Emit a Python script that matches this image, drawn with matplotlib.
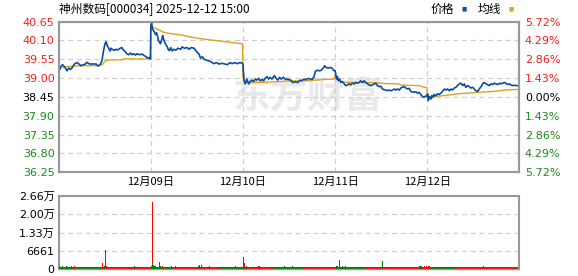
import matplotlib
matplotlib.use("Agg")
import matplotlib.pyplot as plt

plt.rcParams['font.family'] = ['DejaVu Sans', 'Noto Sans CJK SC']

title = "神州数码[000034] 2025-12-12 15:00"
prev_close = 38.45
price_ticks = [40.65, 40.10, 39.55, 39.00, 38.45, 37.90, 37.35, 36.80, 36.25]
pct_labels = ["5.72%", "4.29%", "2.86%", "1.43%", "0.00%", "1.43%", "2.86%", "4.29%", "5.72%"]
day_labels = ["12月09日", "12月10日", "12月11日", "12月12日"]
vol_ticks = [0, 6661, 13322, 19983, 26644]
vol_tick_labels = ["0", "6661", "1.33万", "2.00万", "2.66万"]
MIN_PER_DAY = 241

# intraday price, minute of day -> price
d1_min = [0, 5, 10, 15, 19, 22, 26, 31, 37, 41, 47, 52, 58, 63, 70, 74, 80, 87, 93, 98,
          103, 108, 113, 115, 118, 121, 124, 127, 130, 134, 137, 141, 146, 150, 154, 161, 165, 169, 174, 178,
          183, 188, 192, 196, 201, 205, 211, 218, 224, 229, 233, 237, 240]
d1_price = [39.17, 39.33, 39.39, 39.33, 39.26, 39.21, 39.29, 39.25, 39.33, 39.41,
            39.45, 39.42, 39.36, 39.38, 39.41, 39.46, 39.41, 39.41, 39.41, 39.41,
            39.35, 39.39, 39.50, 39.65, 39.84, 40.00, 40.06, 39.94, 39.89, 39.79,
            39.87, 39.83, 39.81, 39.84, 39.82, 39.87, 39.89, 39.82, 39.77, 39.71,
            39.68, 39.73, 39.68, 39.71, 39.67, 39.71, 39.68, 39.70, 39.65, 39.62,
            39.58, 39.60, 39.55]

d2_min = [0, 2, 4, 7, 10, 12, 15, 18, 20, 23, 25, 28, 31, 33, 36, 39, 41, 44, 46, 49,
          52, 56, 60, 65, 71, 78, 82, 88, 95, 100, 106, 113, 117, 122, 126, 130, 135, 139, 146, 152,
          158, 165, 172, 178, 187, 193, 200, 207, 213, 219, 226, 232, 238, 240]
d2_price = [40.52, 40.60, 40.45, 40.38, 40.33, 40.27, 40.32, 40.20, 40.08, 40.05,
            40.00, 40.10, 40.24, 40.15, 40.05, 39.98, 39.95, 39.88, 39.82, 39.80,
            39.89, 39.79, 39.84, 39.81, 39.87, 39.84, 39.91, 39.87, 39.89, 39.84,
            39.89, 39.87, 39.81, 39.74, 39.70, 39.58, 39.62, 39.55, 39.52, 39.50,
            39.47, 39.42, 39.45, 39.41, 39.43, 39.41, 39.39, 39.45, 39.42, 39.45,
            39.42, 39.45, 39.44, 39.42]

d3_min = [0, 1, 3, 6, 10, 15, 19, 23, 28, 32, 36, 41, 45, 50, 54, 58, 63, 67, 71, 76,
          82, 87, 91, 96, 100, 106, 111, 115, 122, 124, 130, 137, 144, 150, 154, 159, 165, 170, 176, 182,
          187, 189, 194, 200, 205, 211, 214, 217, 223, 229, 233, 237, 240]
d3_price = [39.40, 39.21, 38.92, 38.83, 38.97, 38.83, 38.90, 38.94, 38.90, 38.97,
            38.94, 38.99, 38.92, 38.96, 38.92, 38.99, 39.04, 38.97, 39.02, 38.97,
            39.07, 38.99, 38.94, 39.02, 38.97, 39.02, 38.96, 38.97, 38.95, 38.94,
            38.87, 38.89, 38.87, 38.94, 38.92, 38.97, 38.95, 38.99, 38.97, 38.97,
            39.07, 39.19, 39.23, 39.21, 39.23, 39.31, 39.36, 39.31, 39.29, 39.31,
            39.29, 39.23, 39.21]

d4_min = [0, 1, 4, 6, 9, 12, 15, 19, 24, 28, 32, 37, 41, 45, 50, 54, 58, 63, 67, 72,
          76, 80, 85, 89, 93, 98, 102, 106, 111, 115, 120, 124, 128, 133, 137, 141, 146, 150, 155, 159,
          163, 168, 172, 176, 181, 185, 190, 194, 198, 203, 207, 211, 216, 220, 224, 229, 233, 238, 240]
d4_price = [39.22, 39.16, 38.97, 39.04, 38.92, 38.97, 38.87, 38.90, 38.83, 38.78,
            38.80, 38.83, 38.80, 38.85, 38.83, 38.87, 38.85, 38.87, 38.92, 38.87,
            38.92, 38.87, 38.83, 38.80, 38.78, 38.80, 38.83, 38.85, 38.78, 38.75,
            38.76, 38.68, 38.66, 38.65, 38.63, 38.65, 38.63, 38.65, 38.68, 38.65,
            38.68, 38.65, 38.71, 38.73, 38.75, 38.71, 38.68, 38.70, 38.61, 38.59,
            38.59, 38.60, 38.56, 38.58, 38.52, 38.46, 38.44, 38.48, 38.46]

d5_min = [0, 1, 3, 6, 10, 12, 16, 18, 23, 27, 31, 36, 40, 45, 49, 53, 58, 62, 66, 71,
          75, 79, 84, 88, 93, 97, 101, 106, 110, 114, 119, 123, 127, 132, 136, 141, 145, 149, 154, 158,
          162, 167, 171, 175, 180, 184, 189, 193, 197, 202, 206, 210, 215, 219, 223, 228, 232, 237, 240]
d5_price = [38.46, 38.54, 38.34, 38.46, 38.39, 38.49, 38.44, 38.52, 38.49, 38.54,
            38.52, 38.56, 38.61, 38.68, 38.65, 38.68, 38.63, 38.68, 38.65, 38.71,
            38.73, 38.78, 38.83, 38.85, 38.78, 38.83, 38.73, 38.78, 38.75, 38.71,
            38.73, 38.68, 38.63, 38.61, 38.68, 38.75, 38.83, 38.87, 38.83, 38.81,
            38.78, 38.83, 38.81, 38.85, 38.83, 38.81, 38.85, 38.83, 38.85, 38.87,
            38.85, 38.81, 38.83, 38.80, 38.78, 38.79, 38.78, 38.78, 38.78]

# average price line
d1_avg_min = [0, 1, 5, 20, 50, 105, 115, 120, 124, 137, 165, 170, 240]
d1_avg = [39.17, 39.21, 39.29, 39.33, 39.36, 39.36, 39.40, 39.48, 39.52, 39.53, 39.53, 39.56, 39.56]
d2_avg_min = [0, 4, 15, 24, 32, 50, 78, 104, 130, 157, 183, 209, 240]
d2_avg = [40.55, 40.49, 40.44, 40.39, 40.34, 40.30, 40.26, 40.20, 40.15, 40.11, 40.08, 40.04, 40.00]
d3_avg_min = [0, 3, 10, 60, 100, 122, 170, 190, 215, 240]
d3_avg = [39.00, 38.90, 38.87, 38.88, 38.90, 38.92, 38.92, 38.94, 38.96, 38.97]
d4_avg_min = [0, 5, 20, 110, 130, 165, 175, 220, 230, 240]
d4_avg = [39.10, 38.95, 38.88, 38.86, 38.84, 38.83, 38.79, 38.78, 38.74, 38.72]
d5_avg_min = [0, 1, 18, 45, 79, 106, 141, 175, 202, 240]
d5_avg = [38.46, 38.42, 38.46, 38.49, 38.54, 38.56, 38.59, 38.61, 38.65, 38.67]

# volume: global minute, shares, up(1)/down(0)
vol_min = [1, 9, 20, 23, 32, 41, 114, 119, 122, 125, 198,
           241, 244, 246, 248, 251, 253, 262, 265, 267, 270, 295, 304, 364, 369, 372, 393, 461,
           482, 484, 486, 491, 521, 525, 591, 610,
           726, 728, 733, 735, 741, 750, 846, 943, 946, 949, 956, 961,
           967, 969, 1112]
vol_val = [1200, 1100, 1200, 1050, 1100, 1200, 2400, 1200, 7150, 1100, 1100,
           1200, 24500, 2300, 1700, 1300, 1250, 2750, 1400, 1200, 1400, 1100, 1100, 1200, 1500, 1500, 1100, 1100,
           1200, 4600, 2400, 1100, 1100, 1200, 1100, 1400,
           1400, 1200, 3500, 1400, 1200, 1200, 2900, 1400, 1200, 1100, 1200, 1100,
           1200, 1200, 1100]
vol_up = [1, 0, 0, 0, 1, 1, 1, 0, 1, 1, 0,
          0, 1, 0, 1, 0, 0, 0, 1, 0, 1, 0, 1, 0, 0, 0, 0, 0,
          1, 0, 1, 0, 1, 0, 0, 0,
          0, 1, 0, 1, 0, 0, 0, 0, 0, 0, 1, 1,
          1, 1, 1]
# thin baseline of small trades, runs of minutes
base_start = [0, 110, 241, 300, 420, 482, 560, 640, 723, 800, 964, 1040]
base_end = [110, 241, 300, 420, 482, 560, 640, 723, 800, 964, 1040, 1205]
base_up = [0, 1, 0, 1, 0, 1, 0, 1, 0, 1, 0, 1]

BLUE = '#0B4EA2'
ORANGE = '#DFA21B'
RED_T = '#FF1A1A'
GREEN_T = '#168C16'
GRID = '#D0D0D0'
FRAME = '#999999'

fig = plt.figure(figsize=(5.78, 2.76), dpi=100)
ax = fig.add_axes([0.1016, 0.3757, 0.7969, 0.5464])
axv = fig.add_axes([0.1016, 0.0236, 0.7969, 0.2663])

days = [(d1_min, d1_price, d1_avg_min, d1_avg), (d2_min, d2_price, d2_avg_min, d2_avg),
        (d3_min, d3_price, d3_avg_min, d3_avg), (d4_min, d4_price, d4_avg_min, d4_avg),
        (d5_min, d5_price, d5_avg_min, d5_avg)]
px, py, ax_, ay = [], [], [], []
for i, (m, p, am, a) in enumerate(days):
    px += [i * MIN_PER_DAY + v for v in m]
    py += p
    ax_ += [i * MIN_PER_DAY + v for v in am]
    ay += a

# watermark
ax.text(0.54, 0.50, "东方财富", transform=ax.transAxes, ha='center', va='center',
        fontsize=27, fontweight='bold', color='#E9E9EC', family=['Noto Sans CJK SC'], zorder=0)

ax.plot(ax_, ay, color=ORANGE, lw=1.0, zorder=3)
ax.plot(px, py, color=BLUE, lw=1.2, zorder=4)

total = 5 * MIN_PER_DAY
ax.set_xlim(0, total)
ax.set_ylim(price_ticks[-1], price_ticks[0])
ax.set_yticks(price_ticks)
ax.set_yticklabels(["%.2f" % v for v in price_ticks])
for lab, v in zip(ax.get_yticklabels(), price_ticks):
    lab.set_color(RED_T if v > prev_close else ('black' if v == prev_close else GREEN_T))
ax.set_xticks([MIN_PER_DAY * k for k in range(1, 5)])
ax.set_xticklabels(day_labels, family=['Noto Sans CJK SC'], fontsize=8.5)
ax.tick_params(length=0, labelsize=8, pad=3)
ax.tick_params(axis='x', pad=3)
ax.grid(True, color=GRID, ls=(0, (4, 3)), lw=0.9)

axr = ax.twinx()
axr.set_ylim(ax.get_ylim())
axr.set_yticks(price_ticks)
axr.set_yticklabels(pct_labels)
for lab, v in zip(axr.get_yticklabels(), price_ticks):
    lab.set_color(RED_T if v > prev_close else ('black' if v == prev_close else GREEN_T))
axr.tick_params(length=0, labelsize=8, pad=4)

for a in (ax, axr, axv):
    for s in a.spines.values():
        s.set_color(FRAME)
        s.set_linewidth(1.5)
axv.spines['bottom'].set_linewidth(1.0)

# volume bars
for s, e, u in zip(base_start, base_end, base_up):
    axv.bar(s, 1000, width=e - s, align='edge', color='red' if u else 'green', lw=0, zorder=2)
vx = [v + 0.5 for v in vol_min]
axv.bar(vx, vol_val, width=2.6, color=['red' if u else 'green' for u in vol_up], lw=0, zorder=3)
axv.set_xlim(0, total)
axv.set_ylim(0, vol_ticks[-1])
axv.set_yticks(vol_ticks)
axv.set_yticklabels(vol_tick_labels, family=['DejaVu Sans', 'Noto Sans CJK SC'])
axv.set_xticks([])
axv.tick_params(length=0, labelsize=8, pad=3)
axv.yaxis.grid(True, color=GRID, ls=(0, (4, 3)), lw=0.9)
axv.set_axisbelow(True)

fig.text(0.1016, 0.965, title, ha='left', va='center', fontsize=8.5,
         family=['Noto Sans CJK SC', 'DejaVu Sans'])
fig.text(0.745, 0.965, "价格", ha='left', va='center', fontsize=8.5, family=['Noto Sans CJK SC'])
fig.text(0.799, 0.968, "■", ha='left', va='center', fontsize=4, color=BLUE)
fig.text(0.827, 0.965, "均线", ha='left', va='center', fontsize=8.5, family=['Noto Sans CJK SC'])
fig.text(0.879, 0.968, "■", ha='left', va='center', fontsize=4, color=ORANGE)

fig.savefig("out.png", dpi=100)
